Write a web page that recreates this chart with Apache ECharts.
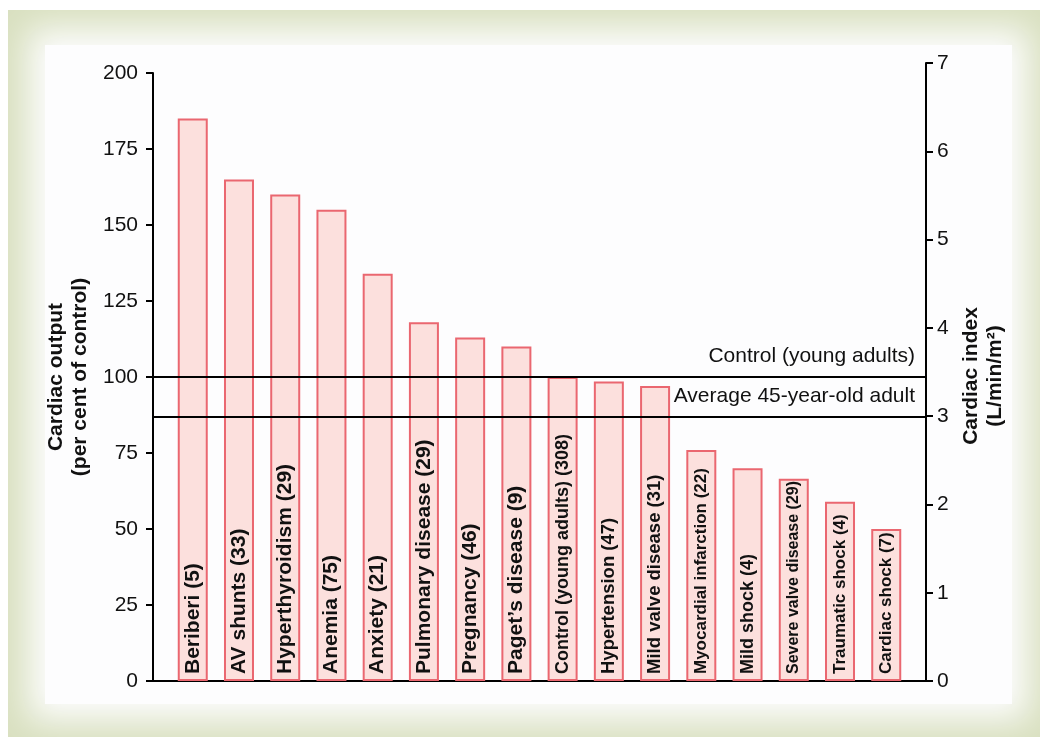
<!DOCTYPE html>
<html>
<head>
<meta charset="utf-8">
<script src="https://cdn.jsdelivr.net/npm/echarts@6/dist/echarts.min.js"></script>
<style>
  html, body { margin: 0; padding: 0; background: #fff; }
  #frame {
    position: absolute; left: 8px; top: 10px; width: 1032px; height: 727px;
    background: #d9e0c0; overflow: hidden;
  }
  #inner {
    position: absolute; left: 37px; top: 35px; width: 967px; height: 659px;
    background: #fdfdfe; box-shadow: 0 0 32px 16px #fdfdfe;
  }
  #chart { position: absolute; left: 0; top: 0; width: 1040px; height: 737px; }
</style>
</head>
<body>
<div id="frame"><div id="inner"></div></div>
<div id="chart"></div>
<script>
// bar categories, with number of patients
const categories = [
  'Beriberi (5)', 'AV shunts (33)', 'Hyperthyroidism (29)', 'Anemia (75)',
  'Anxiety (21)', 'Pulmonary disease (29)', 'Pregnancy (46)', 'Paget\u2019s disease (9)',
  'Control (young adults) (308)', 'Hypertension (47)', 'Mild valve disease (31)',
  'Myocardial infarction (22)', 'Mild shock (4)', 'Severe valve disease (29)',
  'Traumatic shock (4)', 'Cardiac shock (7)'
];
// cardiac output, per cent of control
const outputValues = [185, 165, 160, 155, 134, 118, 113, 110, 100, 98.5, 97, 76, 70, 66.5, 59, 50];
// reference lines
const refNames = ['Control (young adults)', 'Average 45-year-old adult'];
const refValues = [100, 87];
// axis ticks
const leftTicks = [0, 25, 50, 75, 100, 125, 150, 175, 200];
const rightTicks = [0, 1, 2, 3, 4, 5, 6, 7];

// label font sizes (bars with long names use smaller type)
const labelSizes = [21, 21, 21, 21, 21, 21, 21, 21, 18, 18.5, 18.5, 17, 18, 16, 17, 17];

const FONT = '"Liberation Sans", Arial, Helvetica, sans-serif';
const chart = echarts.init(document.getElementById('chart'), null, { renderer: 'canvas' });

const axisLine = { show: true, onZero: false, lineStyle: { color: '#000', width: 2 } };
const axisTick = { show: true, length: 7, lineStyle: { color: '#000', width: 2 } };

chart.setOption({
  animation: false,
  textStyle: { fontFamily: FONT },
  grid: [
    { left: 153, right: 114, top: 73, bottom: 56 },
    { left: 153, right: 114, top: 63, bottom: 56 }
  ],
  xAxis: [
    {
      type: 'value', gridIndex: 0, min: -0.86, max: categories.length - 1 + 0.86,
      axisLine, axisTick: { show: false }, axisLabel: { show: false }, splitLine: { show: false }
    },
    {
      type: 'value', gridIndex: 1, min: 0, max: 1, show: false
    }
  ],
  yAxis: [
    {
      type: 'value', gridIndex: 0, position: 'left',
      min: leftTicks[0], max: leftTicks[leftTicks.length - 1], interval: 25,
      axisLine, axisTick, splitLine: { show: false },
      axisLabel: { fontSize: 21, color: '#111', margin: 15, fontFamily: FONT },
      name: 'Cardiac output\n(per cent of control)',
      nameLocation: 'middle', nameRotate: 90, nameGap: 55,
      nameTextStyle: { fontSize: 21, fontWeight: 'bold', color: '#111', lineHeight: 24, fontFamily: FONT }
    },
    {
      type: 'value', gridIndex: 1, position: 'right',
      min: rightTicks[0], max: rightTicks[rightTicks.length - 1], interval: 1,
      axisLine, axisTick, splitLine: { show: false },
      axisLabel: { fontSize: 21, color: '#111', margin: 11, fontFamily: FONT },
      name: 'Cardiac index\n(L/min/m\u00b2)',
      nameLocation: 'middle', nameRotate: 90, nameGap: 32,
      nameTextStyle: { fontSize: 21, fontWeight: 'bold', color: '#111', lineHeight: 24, fontFamily: FONT,
                       padding: [0, 8, 0, 0] }
    }
  ],
  series: [{
    type: 'bar',
    xAxisIndex: 0, yAxisIndex: 0,
    barWidth: 30,
    silent: true,
    data: outputValues.map((v, i) => ({
      value: [i, v],
      label: { fontSize: labelSizes[i] }
    })),
    itemStyle: { color: '#fce0dd', borderColor: '#ea6770', borderWidth: 2 },
    label: {
      show: true,
      position: 'insideBottom',
      distance: 7,
      rotate: 90,
      align: 'left',
      verticalAlign: 'middle',
      color: '#111',
      fontWeight: 'bold',
      fontFamily: FONT,
      formatter: p => categories[p.dataIndex]
    },
    markLine: {
      silent: true,
      symbol: 'none',
      animation: false,
      lineStyle: { color: '#000', width: 2, type: 'solid' },
      label: {
        show: true, position: 'insideEndTop', distance: [11, 10],
        fontSize: 21, color: '#111', fontFamily: FONT
      },
      emphasis: { disabled: true },
      data: refValues.map((v, i) => ({ yAxis: v, label: { formatter: refNames[i] } }))
    }
  }]
});
</script>
</body>
</html>
